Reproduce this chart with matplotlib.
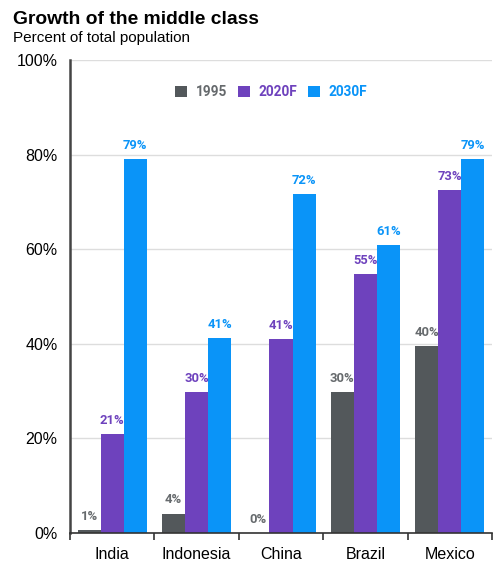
import matplotlib
matplotlib.use('Agg')
import matplotlib.pyplot as plt
import numpy as np

countries = ['India', 'Indonesia', 'China', 'Brazil', 'Mexico']
series = ['1995', '2020F', '2030F']
v1995 = [0.6, 4.1, 0.0, 29.7, 39.6]
v2020 = [21.0, 29.8, 41.0, 54.8, 72.6]
v2030 = [79.1, 41.3, 71.7, 60.8, 79.1]
colors = ['#53585b', '#6e42bd', '#0a94f8']
label_colors = ['#666a6d', '#6e42bd', '#0a94f8']

fig = plt.figure(figsize=(4.93, 5.61), dpi=100)
ax = fig.add_axes([0.142, 0.05, 0.856, 0.843])

x = np.arange(len(countries))
w = 0.273
for i, (vals, c, lc, name) in enumerate(zip([v1995, v2020, v2030], colors, label_colors, series)):
    pos = x + (i - 1) * w
    ax.bar(pos, vals, width=w, color=c, label=name, zorder=2)
    for p, v in zip(pos, vals):
        ax.text(p, v + 1.5, f'{round(v):.0f}%', ha='center', va='bottom',
                fontsize=9.4, fontweight='bold', color=lc, family='Roboto', zorder=3)

ax.set_xlim(-0.5, len(countries) - 0.5)
ax.set_ylim(0, 100)
ax.set_yticks(range(0, 101, 20))
ax.set_yticklabels([f'{t}%' for t in range(0, 101, 20)], family='Liberation Sans', fontsize=11.5)
ax.tick_params(axis='y', length=0, pad=9)
ax.set_xticks(x)
ax.set_xticklabels(countries, family='Liberation Sans', fontsize=11.5)
ax.set_xticks(np.arange(-0.5, len(countries)), minor=True)
ax.tick_params(axis='x', which='major', length=0, pad=10)
ax.tick_params(axis='x', which='minor', length=5, width=1.2, color='#333333')
ax.yaxis.grid(True, color='#dddddd', lw=1, zorder=0)
for s in ['top', 'right']:
    ax.spines[s].set_visible(False)
ax.spines['left'].set_color('#444444')
ax.spines['left'].set_linewidth(1.8)
ax.spines['bottom'].set_color('#333333')
ax.spines['bottom'].set_linewidth(1.2)

leg = ax.legend(loc='center', bbox_to_anchor=(0.477, 0.932), ncol=3, frameon=False,
                handlelength=0.85, handleheight=0.85, handletextpad=0.65, columnspacing=0.8,
                prop={'family': 'Roboto', 'weight': 'bold', 'size': 9.8})
for t, lc in zip(leg.get_texts(), label_colors):
    t.set_color(lc)

fig.text(0.026, 0.965, 'Growth of the middle class', fontsize=13.9, fontweight='bold',
         family='Liberation Sans', va='center')
fig.text(0.026, 0.932, 'Percent of total population', fontsize=11,
         family='Liberation Sans', va='center')

plt.savefig('out.png', dpi=100)
